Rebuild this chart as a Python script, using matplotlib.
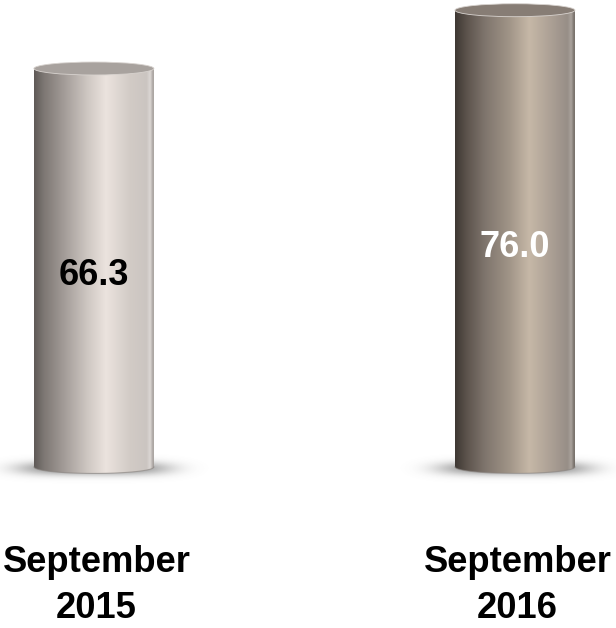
import numpy as np
import matplotlib
matplotlib.use("Agg")
import matplotlib.pyplot as plt
from matplotlib.colors import LinearSegmentedColormap
from matplotlib.patches import Ellipse, PathPatch
from matplotlib.path import Path

plt.rcParams["font.family"] = ["Liberation Sans", "DejaVu Sans"]

# 데이터
categories = ["September\n2015", "September\n2016"]
values = [66.3, 76.0]
value_labels = ["66.3", "76.0"]

# 원통 색상 (좌→우 음영)
body_stops = [
    [(0.0, "#5f5a57"), (0.08, "#7d7773"), (0.25, "#a39c98"), (0.45, "#cfc8c3"),
     (0.6, "#ebe3de"), (0.8, "#d2cbc6"), (0.94, "#cbc5c1"), (0.97, "#dcd7d4"), (1.0, "#9e9894")],
    [(0.0, "#3e3833"), (0.1, "#5d544d"), (0.25, "#7f756d"), (0.45, "#a09487"),
     (0.62, "#c6b8a7"), (0.8, "#aca095"), (0.94, "#978e87"), (0.97, "#aaa39d"), (1.0, "#6e6761")],
]
top_colors = ["#a8a29e", "#877d75"]
label_colors = ["black", "white"]

half_w = 0.1425   # 원통 반폭
ry = 1.08         # 타원 반높이

fig = plt.figure(figsize=(6.16, 6.28), dpi=100)
ax = fig.add_axes([0, 0, 1, 1])
ax.axis("off")

grad = np.linspace(0, 1, 256).reshape(1, -1)
t = np.linspace(np.pi, 2 * np.pi, 60)

for i, (cat, v) in enumerate(zip(categories, values)):
    x0, x1 = i - half_w, i + half_w

    # 바닥 그림자
    sx = np.linspace(-0.32, 0.32, 300)
    sy = np.linspace(-4.0, 3.5, 90)
    X, Y = np.meshgrid(sx, sy)
    alpha = 0.75 * np.exp(-((X / 0.18) ** 4 + ((Y + 0.3) / 1.1) ** 2))
    shadow = np.zeros((len(sy), len(sx), 4))
    shadow[..., :3] = 0.42
    shadow[..., 3] = np.clip(alpha, 0, 1)
    ax.imshow(shadow, extent=(i - 0.32, i + 0.32, -4.0, 3.5), origin="lower",
              aspect="auto", zorder=1, interpolation="bilinear")

    # 원통 몸체
    arc_x = i + half_w * np.cos(t)
    arc_y = ry * np.sin(t)
    verts = [(x0, v)] + list(zip(arc_x, arc_y)) + [(x1, v), (x0, v)]
    codes = [Path.MOVETO] + [Path.LINETO] * (len(verts) - 2) + [Path.CLOSEPOLY]
    body = PathPatch(Path(verts, codes), facecolor="none", edgecolor="none")
    ax.add_patch(body)
    cmap = LinearSegmentedColormap.from_list(f"body{i}", body_stops[i])
    im = ax.imshow(grad, cmap=cmap, extent=(x0, x1, -ry, v), aspect="auto",
                   zorder=2, interpolation="bilinear")
    im.set_clip_path(body)
    ax.plot(arc_x, arc_y, color="#8a8480", lw=0.8, alpha=0.6, zorder=3)

    # 윗면
    ax.add_patch(Ellipse((i, v), 2 * half_w, 2 * ry, facecolor=top_colors[i],
                         edgecolor="#d8d3cf", lw=0.6, zorder=3))

    # 값 라벨
    ax.text(i, v * 0.48, value_labels[i], ha="center", va="center",
            fontsize=26, fontweight="bold", color=label_colors[i], zorder=4)

    # 항목 라벨
    ax.text(i + 0.006, -13.0, cat, ha="center", va="top", fontsize=26.2,
            fontweight="bold", color="black", linespacing=1.4)

ax.set_xlim(-0.223, 1.240)
ax.set_ylim(-26.8, 77.7)

fig.savefig("out.png", dpi=100)
